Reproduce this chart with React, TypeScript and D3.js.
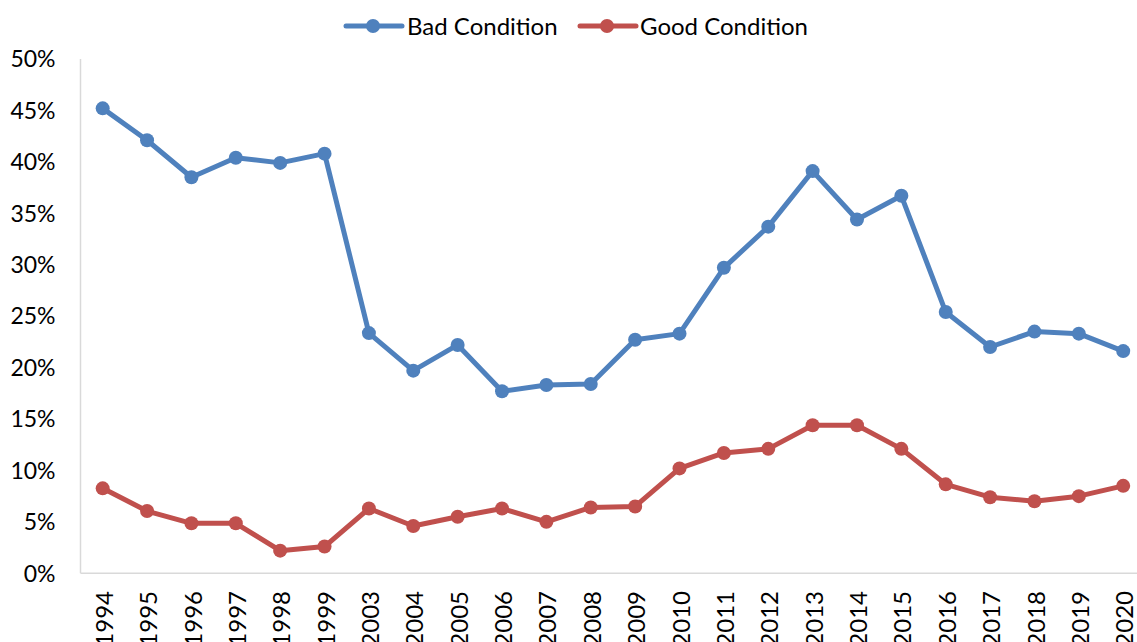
import React from "react";
import * as d3 from "d3";

const categories = ["1994","1995","1996","1997","1998","1999","2003","2004","2005","2006","2007","2008","2009","2010","2011","2012","2013","2014","2015","2016","2017","2018","2019","2020"];
const badCondition = [45.2,42.1,38.5,40.4,39.9,40.8,23.35,19.7,22.2,17.7,18.3,18.4,22.7,23.3,29.7,33.7,39.1,34.4,36.7,25.4,22.0,23.5,23.3,21.6];
const goodCondition = [8.26,6.05,4.86,4.86,2.2,2.6,6.3,4.6,5.5,6.3,5.0,6.4,6.5,10.2,11.7,12.1,14.4,14.4,12.1,8.65,7.4,7.0,7.5,8.5];
const yTicks = [0,5,10,15,20,25,30,35,40,45,50];

const series = [
  { name: "Bad Condition", values: badCondition, color: "#4F81BD" },
  { name: "Good Condition", values: goodCondition, color: "#C0504D" },
];

const W = 1137, H = 642;
const FONT = "Lato, 'Open Sans', sans-serif";

export default function App() {
  const x = d3.scaleBand<string>().domain(categories).range([80.5, 1145.4]).paddingInner(0).paddingOuter(0);
  const cx = (c: string) => (x(c) as number) + x.bandwidth() / 2;
  const y = d3.scaleLinear().domain([0, 50]).range([573.3, 59]);
  const line = d3.line<number>().x((_, i) => cx(categories[i])).y((v) => y(v));

  const legend = [
    { s: series[0], x0: 346, tx: 407 },
    { s: series[1], x0: 580, tx: 640 },
  ];

  return (
    <svg width={W} height={H} style={{ position: "absolute", left: 0, top: 0, background: "#fff" }} fontFamily={FONT}>
      <rect x={0} y={0} width={W} height={H} fill="#fff" />
      {/* axes */}
      <line x1={80.5} x2={W} y1={y(0)} y2={y(0)} stroke="#D9D9D9" strokeWidth={1.5} />
      <line x1={80.5} x2={80.5} y1={y(50)} y2={y(0)} stroke="#D9D9D9" strokeWidth={1.5} />
      {yTicks.map((t) => (
        <text key={t} x={55.5} y={y(t)} dy="0.36em" textAnchor="end" fontSize={23} fill="#000">
          {t + "%"}
        </text>
      ))}
      {categories.map((c) => (
        <text key={c} transform={`translate(${cx(c)},591) rotate(-90)`} dy="0.42em" textAnchor="end" fontSize={24} fill="#000">
          {c}
        </text>
      ))}
      {series.map((s) => (
        <g key={s.name}>
          <path d={line(s.values) as string} fill="none" stroke={s.color} strokeWidth={5} strokeLinejoin="round" strokeLinecap="round" />
          {s.values.map((v, i) => (
            <circle key={i} cx={cx(categories[i])} cy={y(v)} r={7} fill={s.color} />
          ))}
        </g>
      ))}
      {legend.map(({ s, x0, tx }) => (
        <g key={s.name}>
          <line x1={x0} x2={x0 + 56} y1={26} y2={26} stroke={s.color} strokeWidth={5} strokeLinecap="round" />
          <circle cx={x0 + 27} cy={26} r={7} fill={s.color} />
          <text x={tx} y={26} dy="0.36em" fontSize={24} fill="#000">{s.name}</text>
        </g>
      ))}
    </svg>
  );
}
